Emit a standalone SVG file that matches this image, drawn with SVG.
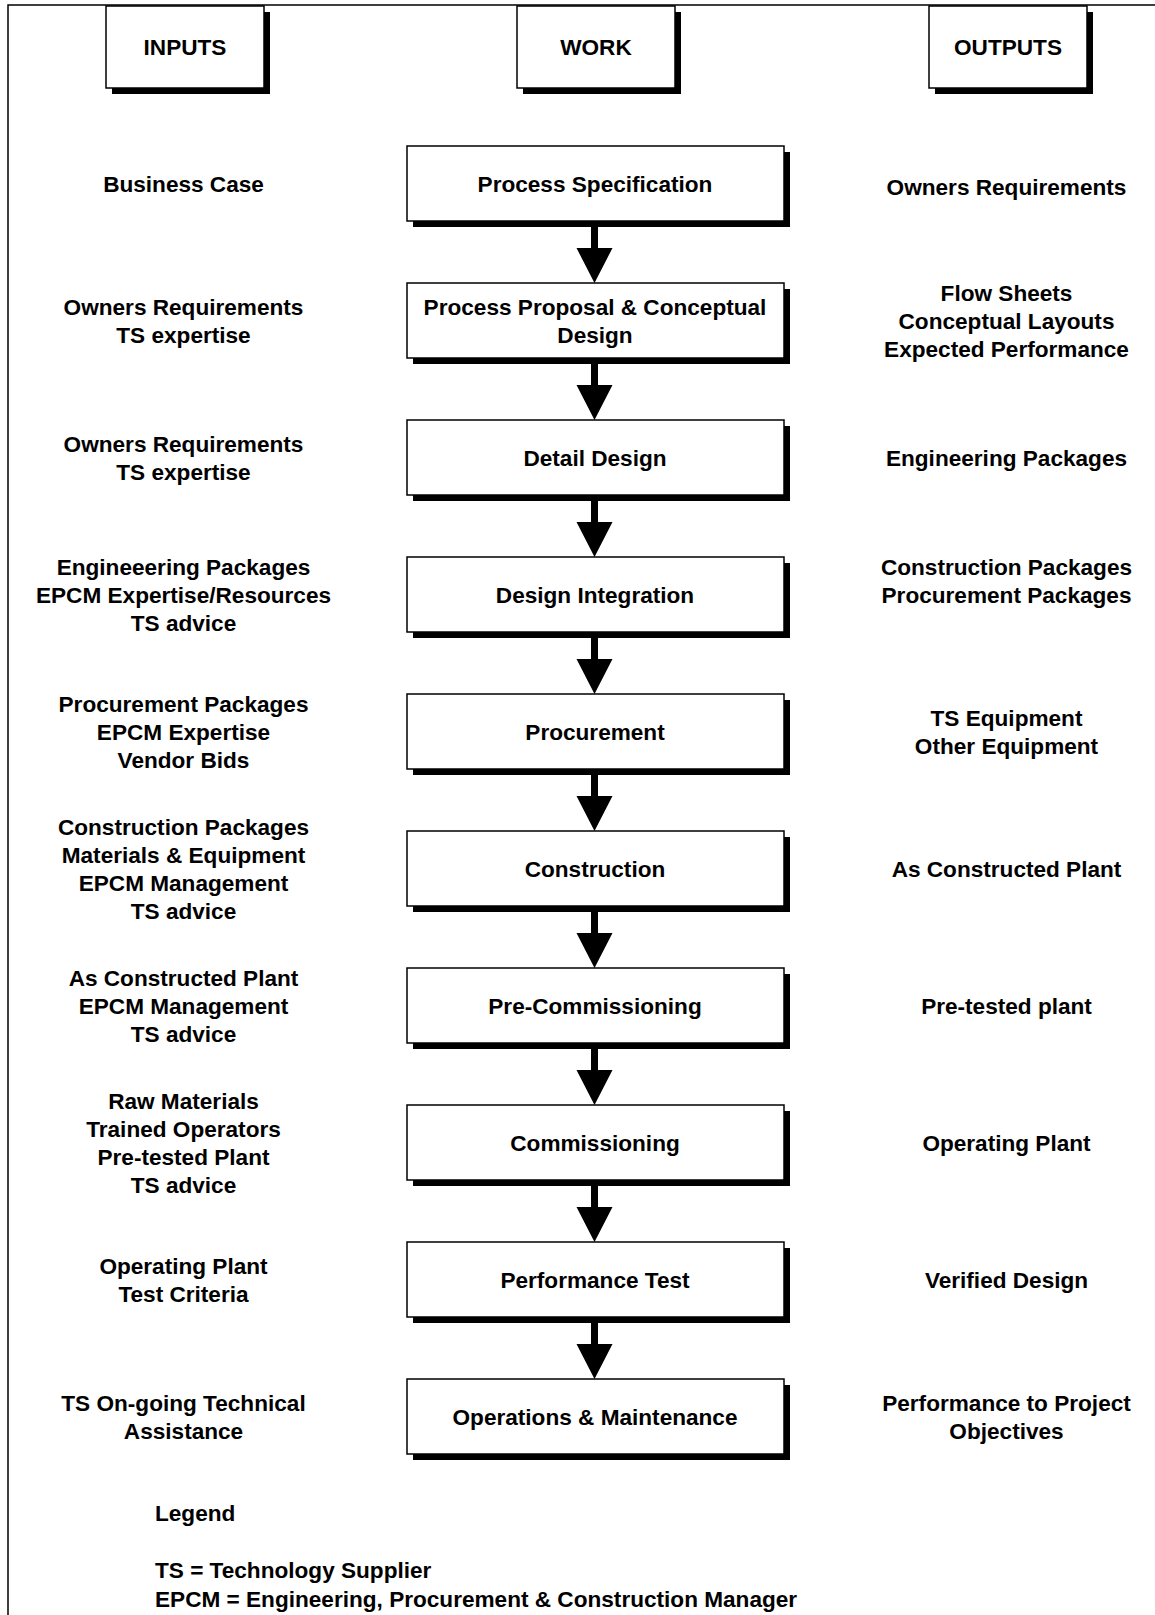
<svg xmlns="http://www.w3.org/2000/svg" xmlns:xlink="http://www.w3.org/1999/xlink" width="1155" height="1615" viewBox="0 0 1155 1615">
<style>
.frame{fill:none;stroke:#000;stroke-width:1.5}
.box{fill:#fff;stroke:#000;stroke-width:1.5}
.sh{fill:#000}
.t{font-family:"Liberation Sans",Arial,sans-serif;font-weight:bold;font-size:22.6px;fill:#000;text-anchor:middle}
.l{font-family:"Liberation Sans",Arial,sans-serif;font-weight:bold;font-size:22.6px;fill:#000;text-anchor:start}
.arr{fill:#000}
</style>
<rect width="1155" height="1615" fill="#fff"/>
<rect class="frame" x="8" y="5" width="1300" height="1700"/>

<g id="hdr-inputs"><rect class="sh" x="112" y="12" width="158" height="82"/><rect class="box" x="106" y="6" width="158" height="82"/><text class="t" x="185" y="55">INPUTS</text></g>
<g id="hdr-work"><rect class="sh" x="523" y="12" width="158" height="82"/><rect class="box" x="517" y="6" width="158" height="82"/><text class="t" x="596" y="55">WORK</text></g>
<g id="hdr-outputs"><rect class="sh" x="935" y="12" width="158" height="82"/><rect class="box" x="929" y="6" width="158" height="82"/><text class="t" x="1008" y="55">OUTPUTS</text></g>

<g id="connectors">
<path class="arr" d="M591 221H598V248H612.5L594.5 283L576.5 248H591Z"/>
<path class="arr" d="M591 358H598V385H612.5L594.5 420L576.5 385H591Z"/>
<path class="arr" d="M591 495H598V522H612.5L594.5 557L576.5 522H591Z"/>
<path class="arr" d="M591 632H598V659H612.5L594.5 694L576.5 659H591Z"/>
<path class="arr" d="M591 769H598V796H612.5L594.5 831L576.5 796H591Z"/>
<path class="arr" d="M591 906H598V933H612.5L594.5 968L576.5 933H591Z"/>
<path class="arr" d="M591 1043H598V1070H612.5L594.5 1105L576.5 1070H591Z"/>
<path class="arr" d="M591 1180H598V1207H612.5L594.5 1242L576.5 1207H591Z"/>
<path class="arr" d="M591 1317H598V1344H612.5L594.5 1379L576.5 1344H591Z"/>
</g>

<g id="w1"><rect class="sh" x="413" y="152" width="377" height="75"/><rect class="box" x="407" y="146" width="377" height="75"/><text class="t" x="595" y="191.5">Process Specification</text></g>
<g id="w2"><rect class="sh" x="413" y="289" width="377" height="75"/><rect class="box" x="407" y="283" width="377" height="75"/><text class="t" x="595" y="314.5">Process Proposal &amp; Conceptual</text><text class="t" x="595" y="342.5">Design</text></g>
<g id="w3"><rect class="sh" x="413" y="426" width="377" height="75"/><rect class="box" x="407" y="420" width="377" height="75"/><text class="t" x="595" y="465.5">Detail Design</text></g>
<g id="w4"><rect class="sh" x="413" y="563" width="377" height="75"/><rect class="box" x="407" y="557" width="377" height="75"/><text class="t" x="595" y="602.5">Design Integration</text></g>
<g id="w5"><rect class="sh" x="413" y="700" width="377" height="75"/><rect class="box" x="407" y="694" width="377" height="75"/><text class="t" x="595" y="739.5">Procurement</text></g>
<g id="w6"><rect class="sh" x="413" y="837" width="377" height="75"/><rect class="box" x="407" y="831" width="377" height="75"/><text class="t" x="595" y="876.5">Construction</text></g>
<g id="w7"><rect class="sh" x="413" y="974" width="377" height="75"/><rect class="box" x="407" y="968" width="377" height="75"/><text class="t" x="595" y="1013.5">Pre-Commissioning</text></g>
<g id="w8"><rect class="sh" x="413" y="1111" width="377" height="75"/><rect class="box" x="407" y="1105" width="377" height="75"/><text class="t" x="595" y="1150.5">Commissioning</text></g>
<g id="w9"><rect class="sh" x="413" y="1248" width="377" height="75"/><rect class="box" x="407" y="1242" width="377" height="75"/><text class="t" x="595" y="1287.5">Performance Test</text></g>
<g id="w10"><rect class="sh" x="413" y="1385" width="377" height="75"/><rect class="box" x="407" y="1379" width="377" height="75"/><text class="t" x="595" y="1424.5">Operations &amp; Maintenance</text></g>

<g id="in1"><text class="t" x="183.5" y="191.5">Business Case</text></g>
<g id="in2"><text class="t" x="183.5" y="314.5">Owners Requirements</text><text class="t" x="183.5" y="342.5">TS expertise</text></g>
<g id="in3"><text class="t" x="183.5" y="451.5">Owners Requirements</text><text class="t" x="183.5" y="479.5">TS expertise</text></g>
<g id="in4"><text class="t" x="183.5" y="574.5">Engineeering Packages</text><text class="t" x="183.5" y="602.5">EPCM Expertise/Resources</text><text class="t" x="183.5" y="630.5">TS advice</text></g>
<g id="in5"><text class="t" x="183.5" y="711.5">Procurement Packages</text><text class="t" x="183.5" y="739.5">EPCM Expertise</text><text class="t" x="183.5" y="767.5">Vendor Bids</text></g>
<g id="in6"><text class="t" x="183.5" y="834.5">Construction Packages</text><text class="t" x="183.5" y="862.5">Materials &amp; Equipment</text><text class="t" x="183.5" y="890.5">EPCM Management</text><text class="t" x="183.5" y="918.5">TS advice</text></g>
<g id="in7"><text class="t" x="183.5" y="985.5">As Constructed Plant</text><text class="t" x="183.5" y="1013.5">EPCM Management</text><text class="t" x="183.5" y="1041.5">TS advice</text></g>
<g id="in8"><text class="t" x="183.5" y="1108.5">Raw Materials</text><text class="t" x="183.5" y="1136.5">Trained Operators</text><text class="t" x="183.5" y="1164.5">Pre-tested Plant</text><text class="t" x="183.5" y="1192.5">TS advice</text></g>
<g id="in9"><text class="t" x="183.5" y="1273.5">Operating Plant</text><text class="t" x="183.5" y="1301.5">Test Criteria</text></g>
<g id="in10"><text class="t" x="183.5" y="1410.5">TS On-going Technical</text><text class="t" x="183.5" y="1438.5">Assistance</text></g>

<g id="out1"><text class="t" x="1006.5" y="195">Owners Requirements</text></g>
<g id="out2"><text class="t" x="1006.5" y="300.5">Flow Sheets</text><text class="t" x="1006.5" y="328.5">Conceptual Layouts</text><text class="t" x="1006.5" y="356.5">Expected Performance</text></g>
<g id="out3"><text class="t" x="1006.5" y="465.5">Engineering Packages</text></g>
<g id="out4"><text class="t" x="1006.5" y="574.5">Construction Packages</text><text class="t" x="1006.5" y="602.5">Procurement Packages</text></g>
<g id="out5"><text class="t" x="1006.5" y="725.5">TS Equipment</text><text class="t" x="1006.5" y="753.5">Other Equipment</text></g>
<g id="out6"><text class="t" x="1006.5" y="876.5">As Constructed Plant</text></g>
<g id="out7"><text class="t" x="1006.5" y="1013.5">Pre-tested plant</text></g>
<g id="out8"><text class="t" x="1006.5" y="1150.5">Operating Plant</text></g>
<g id="out9"><text class="t" x="1006.5" y="1287.5">Verified Design</text></g>
<g id="out10"><text class="t" x="1006.5" y="1410.5">Performance to Project</text><text class="t" x="1006.5" y="1438.5">Objectives</text></g>

<g id="legend"><text class="l" x="155" y="1521">Legend</text><text class="l" x="155" y="1578">TS = Technology Supplier</text><text class="l" x="155" y="1607">EPCM = Engineering, Procurement &amp; Construction Manager</text></g>
</svg>
